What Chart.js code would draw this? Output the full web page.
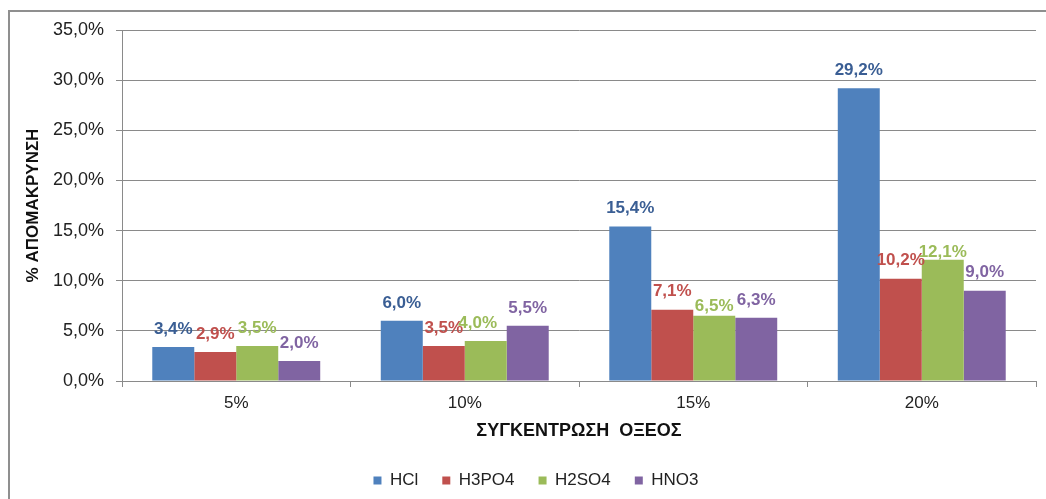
<!DOCTYPE html>
<html>
<head>
<meta charset="utf-8">
<script src="https://cdn.jsdelivr.net/npm/chart.js@4/dist/chart.umd.min.js"></script>
<style>
  html, body { margin: 0; padding: 0; background: #ffffff; }
  #wrap { width: 1046px; height: 499px; }
</style>
</head>
<body>
<div id="wrap"><canvas id="c" width="1046" height="499"></canvas></div>
<script>
// Acid concentration categories
const categories = ['5%', '10%', '15%', '20%'];

// Removal percentage per acid
const hcl   = [3.4, 6.0, 15.4, 29.2];
const h3po4 = [2.9, 3.5, 7.1, 10.2];
const h2so4 = [3.5, 4.0, 6.5, 12.1];
const hno3  = [2.0, 5.5, 6.3, 9.0];

const seriesNames = ['HCl', 'H3PO4', 'H2SO4', 'HNO3'];
const seriesValues = [hcl, h3po4, h2so4, hno3];

// Axis range
const yMin = 0;
const yMax = 35;
const yStep = 5;

const barColors   = ['#4f81bd', '#c0504d', '#9bbb59', '#8064a2'];
const labelColors = ['#3a5e94', '#c0504d', '#9bbb59', '#8064a2'];
const FONT = '"Liberation Sans", Arial, sans-serif';

const fmt = v => v.toFixed(1).replace('.', ',') + '%';

// Value labels drawn above each bar
const barLabels = {
  id: 'barLabels',
  afterDatasetsDraw(chart, args, opts) {
    const ctx = chart.ctx;
    ctx.save();
    ctx.font = 'bold 17px ' + FONT;
    ctx.textAlign = 'center';
    ctx.textBaseline = 'middle';
    chart.data.datasets.forEach((ds, di) => {
      const meta = chart.getDatasetMeta(di);
      meta.data.forEach((bar, i) => {
        const shift = (opts.shifts[di] && opts.shifts[di][i]) || [0, 0];
        ctx.fillStyle = opts.colors[di];
        ctx.fillText(fmt(ds.data[i]), bar.x + shift[0], bar.y - opts.gap + shift[1]);
      });
    });
    ctx.restore();
  }
};

// Outer chart frame (top and left edges)
const frame = {
  id: 'frame',
  beforeDraw(chart) {
    const ctx = chart.ctx;
    ctx.save();
    ctx.strokeStyle = '#8f8f8f';
    ctx.lineWidth = 2;
    ctx.beginPath();
    ctx.moveTo(9, chart.height);
    ctx.lineTo(9, 11);
    ctx.lineTo(chart.width, 11);
    ctx.stroke();
    ctx.restore();
  }
};

new Chart(document.getElementById('c'), {
  type: 'bar',
  data: {
    labels: categories,
    datasets: seriesNames.map((name, i) => ({
      label: name,
      data: seriesValues[i],
      backgroundColor: barColors[i],
      borderWidth: 0,
      categoryPercentage: 0.735,
      barPercentage: 1.0
    }))
  },
  options: {
    responsive: false,
    animation: false,
    devicePixelRatio: 1,
    layout: { padding: { left: 36, right: 10, top: 30, bottom: 0 } },
    plugins: {
      tooltip: { enabled: false },
      legend: {
        position: 'bottom',
        labels: {
          boxWidth: 8,
          boxHeight: 8,
          padding: 24,
          color: '#222222',
          font: { family: FONT, size: 17 }
        }
      },
      barLabels: {
        gap: 18,
        colors: labelColors,
        shifts: [
          [],
          [],
          [[0, 0], [-8, 0], [0, 8], [0, 11]],
          []
        ]
      }
    },
    scales: {
      x: {
        afterFit(scale) { scale.height = 67; },
        grid: {
          display: true,
          drawOnChartArea: false,
          drawTicks: true,
          tickLength: 6,
          color: '#8a8a8a',
          offset: true
        },
        border: { color: '#8a8a8a', width: 1 },
        ticks: {
          color: '#222222',
          font: { family: FONT, size: 17 },
          padding: 6
        },
        title: {
          display: true,
          text: 'ΣΥΓΚΕΝΤΡΩΣΗ  ΟΞΕΟΣ',
          color: '#111111',
          font: { family: FONT, size: 18, weight: 'bold' },
          padding: { top: 0, bottom: 6 }
        }
      },
      y: {
        min: yMin,
        max: yMax,
        afterFit(scale) { scale.width = 86; },
        grid: {
          color: '#8a8a8a',
          lineWidth: 1,
          drawTicks: true,
          tickLength: 6
        },
        border: { color: '#8a8a8a', width: 1 },
        ticks: {
          stepSize: yStep,
          color: '#222222',
          font: { family: FONT, size: 18 },
          padding: 12,
          callback: v => fmt(v)
        },
        title: {
          display: true,
          text: '% ΑΠΟΜΑΚΡΥΝΣΗ',
          color: '#111111',
          font: { family: FONT, size: 17, weight: 'bold' },
          padding: { top: -13, bottom: 0 }
        }
      }
    }
  },
  plugins: [frame, barLabels]
});
</script>
</body>
</html>
